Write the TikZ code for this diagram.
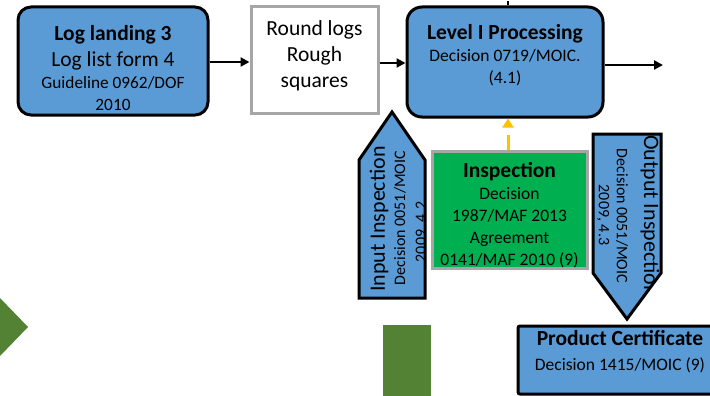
\documentclass[tikz,border=0pt]{standalone}
\usepackage{fontspec}
\setmainfont{Carlito}
\usetikzlibrary{arrows.meta}
\definecolor{boxblue}{HTML}{5B9BD5}
\definecolor{inspgreen}{HTML}{00B050}
\definecolor{boxgray}{HTML}{A6A6A6}
\definecolor{darkgreen}{HTML}{548235}
\definecolor{dashyellow}{HTML}{FFC000}
\tikzset{
  bluebox/.style={draw=black, line width=3pt, fill=boxblue, rounded corners=13pt, inner sep=0pt},
  graybox/.style={draw=boxgray, line width=3pt, fill=white, inner sep=0pt},
  greenbox/.style={draw=boxgray, line width=3pt, fill=inspgreen, inner sep=0pt},
  certbox/.style={draw=black, line width=3pt, fill=boxblue, rounded corners=2pt, inner sep=0pt},
  pentashape/.style={draw=black, line width=3pt, fill=boxblue, line join=miter},
  txt/.style={align=center, inner sep=0pt, text=black},
  big/.style={font=\fontsize{21.5}{26}\selectfont},
  mid/.style={font=\fontsize{17.5}{22}\selectfont},
  flow/.style={line width=2.5pt, -{Triangle[length=9pt,width=9pt]}},
  ydash/.style={draw=dashyellow, line width=3pt, dash pattern=on 15pt off 10pt, -{Triangle[length=9pt,width=11pt]}},
  deco/.style={fill=darkgreen, draw=none}
}
\begin{document}
\begin{tikzpicture}[x=1pt,y=-1pt]
\useasboundingbox (0,0) rectangle (710,396);
\clip (0,0) rectangle (710,396);

% decorative shapes
\path[deco] (0,298) -- (28,327) -- (0,356) -- (-28,327) -- cycle;
\path[deco] (383,325) rectangle (431,400);

% top row boxes
\node[bluebox, minimum width=190pt, minimum height=108pt] (land) at (113,61) {};
\node[txt, big] (landtxt) at (113,68) {\textbf{Log landing 3}\\Log list form 4\\[-4pt]{\fontsize{17.3}{22}\selectfont Guideline 0962/DOF}\\[-4pt]{\fontsize{17.3}{22}\selectfont 2010}};

\node[graybox, minimum width=127pt, minimum height=106pt] (round) at (314.5,60) {};
\node[txt, big] (roundtxt) at (314.5,56) {Round logs\\Rough\\squares};

\node[bluebox, minimum width=196pt, minimum height=110pt, rounded corners=15pt] (level) at (505,62) {};
\node[txt, mid] (leveltxt) at (505,55) {{\fontsize{21.5}{22}\selectfont\bfseries Level I Processing}\\[0pt]Decision 0719/MOIC.\\[0pt](4.1)};
\coordinate (topin) at (508,1);

% inspection
\node[greenbox, minimum width=155pt, minimum height=117pt] (insp) at (509.5,209.5) {};
\node[txt, mid] (insptxt) at (509.5,215) {{\fontsize{21.5}{22}\selectfont\bfseries Inspection}\\[0pt]Decision\\[0pt]1987/MAF 2013\\[0pt]Agreement\\[0pt]0141/MAF 2010 (9)};

% input inspection pentagon
\path[pentashape, draw=none] (359,298) -- (359,160) -- (392,112) -- (425,160) -- (425,298) -- cycle;
\begin{scope}
  \clip (359,298) -- (359,160) -- (392,112) -- (425,160) -- (425,298) -- cycle;
  \node[txt, rotate=90, font=\fontsize{22}{24}\selectfont] (intxt1) at (379,219) {Input Inspection};
  \node[txt, rotate=90, font=\fontsize{16}{18}\selectfont] (intxt2) at (400,218) {Decision 0051/MOIC};
  \node[txt, rotate=90, font=\fontsize{16}{18}\selectfont] (intxt3) at (422,232) {2009, 4.2};
\end{scope}
\draw[pentashape, fill=none] (359,298) -- (359,160) -- (392,112) -- (425,160) -- (425,298) -- cycle;

% output inspection pentagon
\path[pentashape, draw=none] (593,134) -- (661,134) -- (661,273) -- (627,319) -- (593,273) -- cycle;
\begin{scope}
  \clip (593,134) -- (661,134) -- (661,273) -- (627,319) -- (593,273) -- cycle;
  \node[txt, rotate=-90, font=\fontsize{22}{24}\selectfont] (outtxt1) at (650,216) {Output Inspection};
  \node[txt, rotate=-90, font=\fontsize{16}{18}\selectfont] (outtxt2) at (622,216) {Decision 0051/MOIC};
  \node[txt, rotate=-90, font=\fontsize{16}{18}\selectfont] (outtxt3) at (603,215) {2009, 4.3};
\end{scope}
\draw[pentashape, fill=none] (593,134) -- (661,134) -- (661,273) -- (627,319) -- (593,273) -- cycle;

% product certificate
\node[certbox, minimum width=204pt, minimum height=68pt] (cert) at (620,360) {};
\node[txt, mid] (certtxt) at (620,352) {{\fontsize{21.5}{22}\selectfont\bfseries Product Certificate}\\[3pt]Decision 1415/MOIC (9)};

% connectors
\coordinate (outend) at (663,65);
\draw[flow] (land.east |- 0,62) -- (round.west |- 0,62);
\draw[flow] (round.east |- 0,63) -- (level.west |- 0,63);
\draw[flow] (level.east |- outend) -- (outend);
\draw[line width=1.2pt] (topin) -- (level.north -| topin);
\draw[ydash] (insp.north -| topin) -- (level.south -| topin);
\end{tikzpicture}
\end{document}
